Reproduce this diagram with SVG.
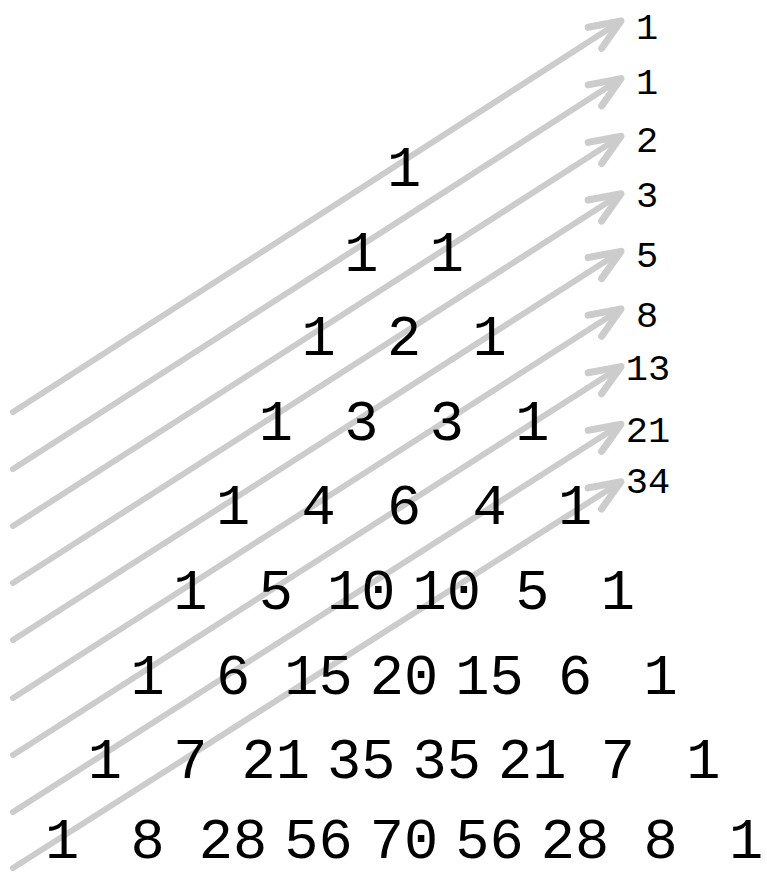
<svg xmlns="http://www.w3.org/2000/svg" width="767" height="875" viewBox="0 0 767 875">
<style>
.n{font-family:"Liberation Mono","DejaVu Sans Mono",monospace;font-size:57px;fill:#000;text-anchor:middle}
.f{font-family:"Liberation Mono","DejaVu Sans Mono",monospace;font-size:37px;fill:#000;text-anchor:middle}
.a{stroke:#cccccc;stroke-width:6;stroke-linecap:round;fill:none;marker-end:url(#ah)}
</style>
<defs>
<marker id="ah" markerUnits="userSpaceOnUse" markerWidth="80" markerHeight="80" viewBox="-40 -40 80 80" refX="0" refY="0" orient="auto" overflow="visible">
<path d="M-31,-12.5 L0,0 L-31,12.5" fill="none" stroke="#cccccc" stroke-width="7" stroke-linecap="round" stroke-linejoin="round"/>
</marker>
</defs>
<rect width="767" height="875" fill="#fff"/>
<g id="connectors">
<line class="a" x1="13" y1="412" x2="621" y2="21"/>
<line class="a" x1="13" y1="469" x2="621" y2="78.6"/>
<line class="a" x1="13" y1="526" x2="621" y2="136.2"/>
<line class="a" x1="13" y1="583" x2="621" y2="193.8"/>
<line class="a" x1="13" y1="640" x2="621" y2="251.4"/>
<line class="a" x1="13" y1="698" x2="621" y2="309"/>
<line class="a" x1="13" y1="755" x2="621" y2="366.6"/>
<line class="a" x1="13" y1="812" x2="621" y2="424.2"/>
<line class="a" x1="13" y1="868" x2="621" y2="481.8"/>
</g>
<g id="row0"><text class="n" x="404" y="186">1</text></g>
<g id="row1"><text class="n" x="361.25" y="270.6">1</text><text class="n" x="446.75" y="270.6">1</text></g>
<g id="row2"><text class="n" x="318.5" y="355.2">1</text><text class="n" x="404" y="355.2">2</text><text class="n" x="489.5" y="355.2">1</text></g>
<g id="row3"><text class="n" x="275.75" y="439.8">1</text><text class="n" x="361.25" y="439.8">3</text><text class="n" x="446.75" y="439.8">3</text><text class="n" x="532.25" y="439.8">1</text></g>
<g id="row4"><text class="n" x="233" y="524.4">1</text><text class="n" x="318.5" y="524.4">4</text><text class="n" x="404" y="524.4">6</text><text class="n" x="489.5" y="524.4">4</text><text class="n" x="575" y="524.4">1</text></g>
<g id="row5"><text class="n" x="190.25" y="609">1</text><text class="n" x="275.75" y="609">5</text><text class="n" x="361.25" y="609">10</text><text class="n" x="446.75" y="609">10</text><text class="n" x="532.25" y="609">5</text><text class="n" x="617.75" y="609">1</text></g>
<g id="row6"><text class="n" x="147.5" y="693.6">1</text><text class="n" x="233" y="693.6">6</text><text class="n" x="318.5" y="693.6">15</text><text class="n" x="404" y="693.6">20</text><text class="n" x="489.5" y="693.6">15</text><text class="n" x="575" y="693.6">6</text><text class="n" x="660.5" y="693.6">1</text></g>
<g id="row7"><text class="n" x="104.75" y="778.2">1</text><text class="n" x="190.25" y="778.2">7</text><text class="n" x="275.75" y="778.2">21</text><text class="n" x="361.25" y="778.2">35</text><text class="n" x="446.75" y="778.2">35</text><text class="n" x="532.25" y="778.2">21</text><text class="n" x="617.75" y="778.2">7</text><text class="n" x="703.25" y="778.2">1</text></g>
<g id="row8"><text class="n" x="62" y="857.5">1</text><text class="n" x="147.5" y="857.5">8</text><text class="n" x="233" y="857.5">28</text><text class="n" x="318.5" y="857.5">56</text><text class="n" x="404" y="857.5">70</text><text class="n" x="489.5" y="857.5">56</text><text class="n" x="575" y="857.5">28</text><text class="n" x="660.5" y="857.5">8</text><text class="n" x="746" y="857.5">1</text></g>
<g id="sums">
<text class="f" x="647" y="39">1</text>
<text class="f" x="647" y="94">1</text>
<text class="f" x="647" y="152">2</text>
<text class="f" x="647" y="207">3</text>
<text class="f" x="647" y="267">5</text>
<text class="f" x="647" y="327">8</text>
<text class="f" x="648" y="380">13</text>
<text class="f" x="648" y="442">21</text>
<text class="f" x="648" y="493">34</text>
</g>
</svg>
